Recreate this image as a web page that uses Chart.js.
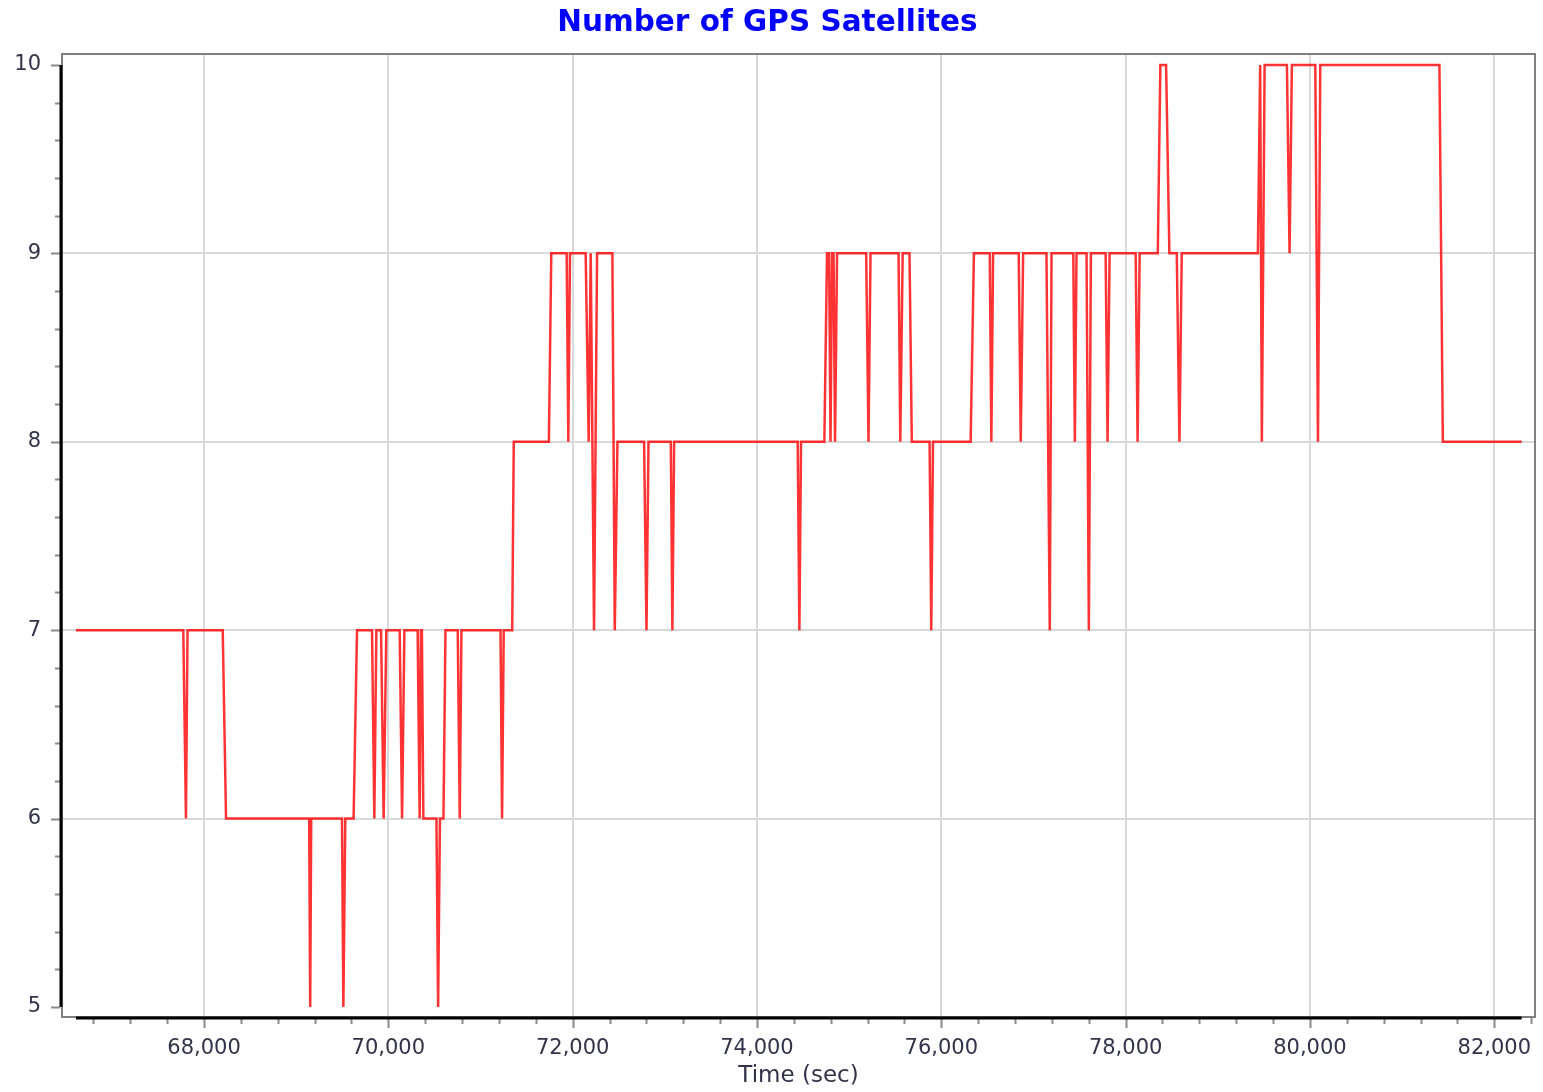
<!DOCTYPE html>
<html>
<head>
<meta charset="utf-8">
<title>Number of GPS Satellites</title>
<script src="https://cdn.jsdelivr.net/npm/chart.js@4/dist/chart.umd.min.js"></script>
<style>
  html, body { margin: 0; padding: 0; background: #fff; }
  canvas { display: block; }
</style>
</head>
<body>
<canvas id="sat_chart" width="1543" height="1092"></canvas>
<script>
// corners of the trace: time (sec) and number of satellites seen
const sat_times = [
  66610, 67775, 67804, 67821, 68203, 68239, 69141, 69152, 69163, 69497,
  69512, 69533, 69623, 69660, 69823, 69848, 69870, 69921, 69949, 69978,
  70123, 70149, 70174, 70318, 70340, 70353, 70364, 70380, 70522, 70540,
  70560, 70598, 70620, 70753, 70775, 70793, 71217, 71234, 71252, 71344,
  71361, 71742, 71768, 71935, 71953, 71971, 72141, 72174, 72196, 72232,
  72265, 72431, 72457, 72486, 72775, 72801, 72823, 73065, 73082, 73101,
  74442, 74460, 74478, 74731, 74760, 74782, 74798, 74815, 74831, 74847,
  74869, 75185, 75210, 75232, 75536, 75555, 75581, 75655, 75680, 75873,
  75891, 75910, 76318, 76354, 76526, 76543, 76562, 76840, 76862, 76888,
  77141, 77177, 77196, 77432, 77449, 77467, 77576, 77601, 77623, 77783,
  77804, 77826, 78109, 78130, 78152, 78349, 78377, 78439, 78475, 78555,
  78584, 78609, 79435, 79460, 79478, 79508, 79750, 79779, 79804, 80058,
  80087, 80112, 81405, 81442, 82297
];
const sat_counts = [
  7, 7, 6, 7, 7, 6, 6, 5, 6, 6,
  5, 6, 6, 7, 7, 6, 7, 7, 6, 7,
  7, 6, 7, 7, 6, 7, 7, 6, 6, 5,
  6, 6, 7, 7, 6, 7, 7, 6, 7, 7,
  8, 8, 9, 9, 8, 9, 9, 8, 9, 7,
  9, 9, 7, 8, 8, 7, 8, 8, 7, 8,
  8, 7, 8, 8, 9, 9, 8, 9, 9, 8,
  9, 9, 8, 9, 9, 8, 9, 9, 8, 8,
  7, 8, 8, 9, 9, 8, 9, 9, 8, 9,
  9, 7, 9, 9, 8, 9, 9, 7, 9, 9,
  8, 9, 9, 8, 9, 9, 10, 10, 9, 9,
  8, 9, 9, 10, 8, 10, 10, 9, 10, 10,
  8, 10, 10, 8, 8
];

const x_major_ticks = [68000, 70000, 72000, 74000, 76000, 78000, 80000, 82000];
const y_major_ticks = [5, 6, 7, 8, 9, 10];
const y_grid_values = [6, 7, 8, 9];
const x_minor_step = 400;
const y_minor_step = 0.2;

const x_range = [66459, 82442];
const y_range = [4.947, 10.058];

const tick_font = { family: 'DejaVu Sans', size: 21 };
const label_color = '#33334a';


// grey frame, black axis lines and the tick marks (short for minor ticks)
const frame_plugin = {
  id: 'frame',
  afterDraw(chart) {
    const ctx = chart.ctx;
    const a = chart.chartArea;
    const x = chart.scales.x;
    const y = chart.scales.y;
    ctx.save();

    ctx.strokeStyle = '#808080';
    ctx.lineWidth = 2;
    ctx.strokeRect(a.left, a.top, a.right - a.left, a.bottom - a.top);

    ctx.strokeStyle = '#8a8a8a';
    ctx.lineWidth = 2;
    ctx.beginPath();
    for (const t of x.ticks) {
      const px = Math.round(x.getPixelForValue(t.value)) + 0.5;
      const len = x_major_ticks.includes(t.value) ? 10 : 6;
      ctx.moveTo(px, a.bottom + 1);
      ctx.lineTo(px, a.bottom + 1 + len);
    }
    for (const t of y.ticks) {
      const py = Math.round(y.getPixelForValue(t.value)) + 0.5;
      const len = y_major_ticks.includes(t.value) ? 9 : 5;
      ctx.moveTo(a.left - 2, py);
      ctx.lineTo(a.left - 2 - len, py);
    }
    ctx.stroke();

    ctx.strokeStyle = '#000';
    ctx.lineWidth = 3;
    ctx.beginPath();
    ctx.moveTo(a.left - 1, y.getPixelForValue(y_major_ticks[y_major_ticks.length - 1]));
    ctx.lineTo(a.left - 1, y.getPixelForValue(y_major_ticks[0]));
    ctx.moveTo(x.getPixelForValue(sat_times[0]), a.bottom + 1);
    ctx.lineTo(x.getPixelForValue(sat_times[sat_times.length - 1]), a.bottom + 1);
    ctx.stroke();

    ctx.restore();
  }
};


function build_points() {
  var points = [];
  for (var i = 0; i < sat_times.length; i++) {
    points.push({ x: sat_times[i], y: sat_counts[i] });
  }
  return points;
}


function stepped_ticks(scale, step) {
  var ticks = [];
  var first = Math.ceil(scale.min / step - 1e-9);
  for (var k = first; k * step <= scale.max + 1e-9; k++) {
    ticks.push({ value: Math.round(k * step * 1000) / 1000 });
  }
  scale.ticks = ticks;
}


new Chart(document.getElementById('sat_chart'), {
  type: 'line',
  data: {
    datasets: [{
      data: build_points(),
      borderColor: 'rgba(255, 0, 0, 0.8)',
      borderWidth: 2.5,
      pointRadius: 0,
      tension: 0,
      fill: false,
    }]
  },
  options: {
    responsive: false,
    animation: false,
    devicePixelRatio: 1,
    layout: { padding: { left: 0, right: 8, top: 0, bottom: 0 } },
    plugins: {
      legend: { display: false },
      tooltip: { enabled: false },
      title: {
        display: true,
        text: 'Number of GPS Satellites',
        color: '#0000ff',
        font: { family: 'DejaVu Sans', size: 29.5, weight: 'bold' },
        padding: { top: 6, bottom: 12.6 },
      },
    },
    scales: {
      x: {
        type: 'linear',
        min: x_range[0],
        max: x_range[1],
        afterBuildTicks: scale => stepped_ticks(scale, x_minor_step),
        afterFit: scale => {
          scale.height = 75;
          scale.paddingLeft = 0;
          scale.paddingRight = 0;
        },
        border: { display: false },
        grid: {
          drawTicks: false,
          lineWidth: 2,
          color: c => x_major_ticks.includes(c.tick.value) ? '#d9d9d9' : 'rgba(0,0,0,0)',
        },
        ticks: {
          autoSkip: false,
          maxRotation: 0,
          padding: 19,
          color: label_color,
          font: tick_font,
          callback: v => x_major_ticks.includes(v) ? v.toLocaleString('en-US') : '',
        },
        title: {
          display: true,
          text: 'Time (sec)',
          color: label_color,
          font: { family: 'DejaVu Sans', size: 23 },
          padding: { top: 0, bottom: 2 },
        },
      },
      y: {
        min: y_range[0],
        max: y_range[1],
        afterBuildTicks: scale => stepped_ticks(scale, y_minor_step),
        afterFit: scale => {
          scale.width = 62;
          scale.paddingTop = 0;
          scale.paddingBottom = 0;
        },
        border: { display: false },
        grid: {
          drawTicks: false,
          lineWidth: 2,
          color: c => y_grid_values.includes(c.tick.value) ? '#d9d9d9' : 'rgba(0,0,0,0)',
        },
        ticks: {
          autoSkip: false,
          padding: 21,
          color: label_color,
          font: tick_font,
          callback: v => y_major_ticks.includes(v) ? String(v) : '',
        },
      },
    },
  },
  plugins: [frame_plugin],
});
</script>
</body>
</html>
